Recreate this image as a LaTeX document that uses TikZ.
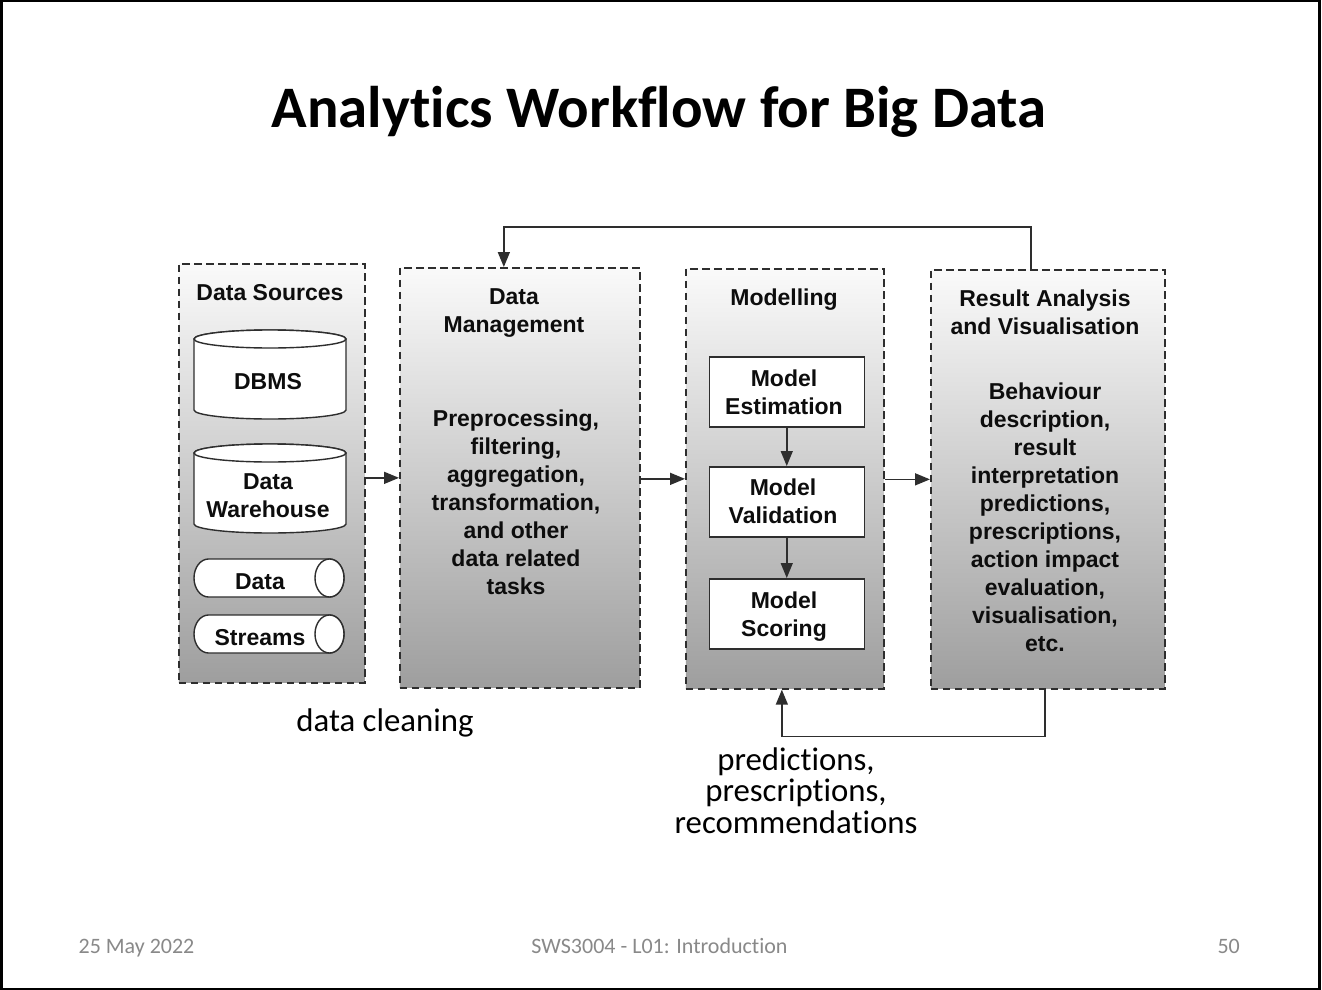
\documentclass[tikz,border=0pt]{standalone}
\usepackage{fontspec}
\setmainfont{Carlito}[Ligatures=NoCommon]
\newfontfamily\helv{Liberation Sans}
\usetikzlibrary{arrows.meta}
\definecolor{footgray}{HTML}{898989}
\definecolor{linegray}{HTML}{2E2E2E}
\begin{document}
\begin{tikzpicture}[x=1pt,y=-1pt,
  bigbox/.style={draw=linegray, line width=1.7pt, dash pattern=on 7.5pt off 4.5pt,
    top color=black!2, bottom color=black!38, inner sep=0pt, anchor=north west},
  modbox/.style={draw=linegray, line width=1.5pt, fill=white, inner sep=0pt,
    anchor=north west, minimum width=155pt, minimum height=70pt},
  lbl/.style={font=\helv\bfseries\fontsize{23}{28}\selectfont, align=center,
    inner sep=0pt, anchor=north, text=black!95},
  arr/.style={draw=linegray, line width=1.5pt, -{Triangle[length=15pt,width=12pt]}},
  cyl/.style={draw=linegray, line width=1.4pt, fill=white},
  foot/.style={font=\fontsize{22}{26}\selectfont, text=footgray, inner sep=0pt, anchor=base},
  note/.style={font=\fontsize{32.8}{31.5}\selectfont, align=center, inner sep=0pt, text=black}
]
\useasboundingbox (0,0) rectangle (1322,990);
\fill[white] (0,0) rectangle (1322,990);
\draw[line width=2.6pt] (1.2,1.2) rectangle (1319.5,988.8);

% title
\node[font=\bfseries\fontsize{58.8}{70}\selectfont, inner sep=0pt, anchor=base] (title) at (659,127) {Analytics Workflow for Big Data};

% big boxes
\node[bigbox, minimum width=186pt, minimum height=419pt] (ds) at (178,263) {};
\node[bigbox, minimum width=240pt, minimum height=420pt] (dm) at (399,267) {};
\node[bigbox, minimum width=198pt, minimum height=420pt] (mod) at (685,268) {};
\node[bigbox, minimum width=234pt, minimum height=419pt] (ra) at (930,269) {};

% data sources content
\node[lbl] (tds) at (270,284) {Data Sources};
% DBMS cylinder
\filldraw[cyl] (194,339) -- (194,410) arc[start angle=180,end angle=360,x radius=76pt,y radius=9pt]
  -- (346,339) arc[start angle=0,end angle=180,x radius=76pt,y radius=9pt] -- cycle;
\draw[cyl] (270,339) ellipse [x radius=76pt, y radius=9pt];
\node[lbl] (tdbms) at (268,373) {DBMS};
% Warehouse cylinder
\filldraw[cyl] (194,453) -- (194,524) arc[start angle=180,end angle=360,x radius=76pt,y radius=9pt]
  -- (346,453) arc[start angle=0,end angle=180,x radius=76pt,y radius=9pt] -- cycle;
\draw[cyl] (270,453) ellipse [x radius=76pt, y radius=9pt];
\node[lbl] (tdw) at (268,473) {Data\\Warehouse};
% stream cylinders
\filldraw[cyl] (329.5,559) -- (208.5,559) arc[start angle=90,end angle=270,x radius=14.5pt,y radius=19pt]
  -- (329.5,597) arc[start angle=270,end angle=450,x radius=14.5pt,y radius=19pt] -- cycle;
\draw[cyl] (329.5,578) ellipse [x radius=14.5pt, y radius=19pt];
\node[lbl] (tdata) at (260,573) {Data};
\filldraw[cyl] (329.5,615) -- (208.5,615) arc[start angle=90,end angle=270,x radius=14.5pt,y radius=19pt]
  -- (329.5,653) arc[start angle=270,end angle=450,x radius=14.5pt,y radius=19pt] -- cycle;
\draw[cyl] (329.5,634) ellipse [x radius=14.5pt, y radius=19pt];
\node[lbl] (tstreams) at (260,629) {Streams};

% data management content
\node[lbl] (tdm) at (514,288) {Data\\Management};
\node[lbl] (tdmb) at (516,410) {Preprocessing,\\filtering,\\aggregation,\\transformation,\\and other\\data related\\tasks};

% modelling content
\node[lbl] (tmod) at (784,289) {Modelling};
\node[modbox] (me) at (708.5,356) {};
\node[modbox] (mv) at (708.5,466) {};
\node[modbox] (ms) at (708.5,578) {};
\node[lbl] at (784,370) {Model\\Estimation};
\node[lbl] at (783,479) {Model\\Validation};
\node[lbl] at (784,592) {Model\\Scoring};

% result analysis content
\node[lbl] (tra) at (1045,290) {Result Analysis\\and Visualisation};
\node[lbl] (trab) at (1045,383) {Behaviour\\description,\\result\\interpretation\\predictions,\\prescriptions,\\action impact\\evaluation,\\visualisation,\\etc.};

% arrows
\draw[arr] (ds.east |- dm.west) -- (dm.west);
\draw[arr] (dm.east |- mod.west) -- (mod.west);
\draw[arr] (mod.east |- ra.west) -- (ra.west);
\draw[arr] (me) -- (mv);
\draw[arr] (mv) -- (ms);
\draw[arr] ([xshift=-17pt]ra.north) -- ++(0,-42) -| ([xshift=-16pt]dm.north);
\draw[arr] ([xshift=-3pt]ra.south) -- ++(0,47) -| ([xshift=-3pt]mod.south);

% notes
\node[note, anchor=base] (clean) at (385,731) {data cleaning};
\node[note, anchor=north] (pred) at (796,747.5) {predictions,\\prescriptions,\\recommendations};

% footer
\node[foot] (date) at (136.5,953) {25 May 2022};
\node[foot] (course) at (659.5,953) {SWS3004 - L01: Introduction};
\node[foot, anchor=base east] (page) at (1240,953) {50};
\end{tikzpicture}
\end{document}
